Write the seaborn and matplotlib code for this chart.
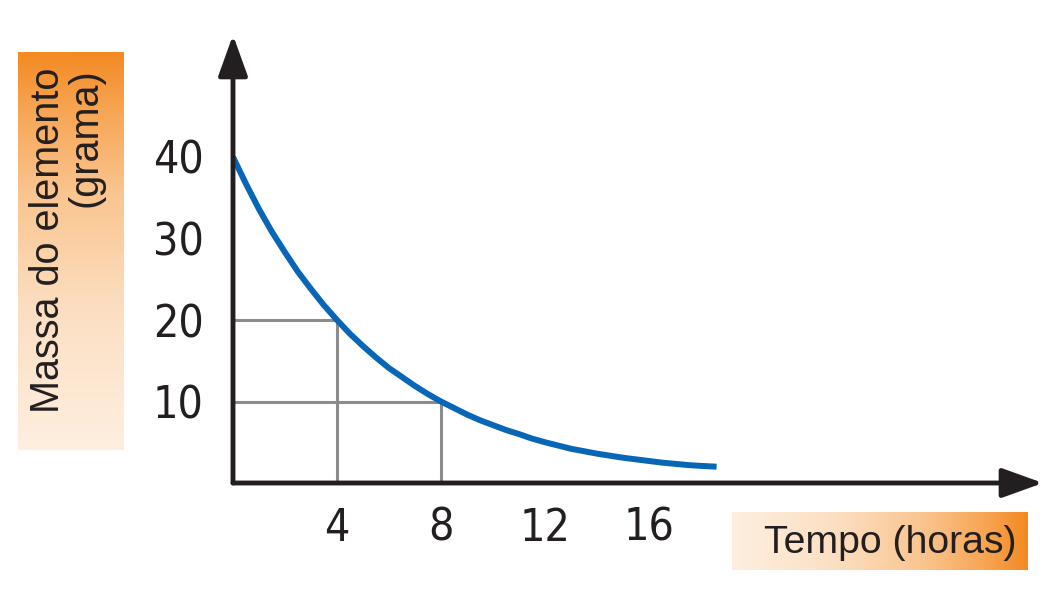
import numpy as np
import matplotlib
matplotlib.use('agg')
import matplotlib.pyplot as plt
from matplotlib import font_manager
from matplotlib.colors import LinearSegmentedColormap
import seaborn as sns

# data (every half hour)
horas = [0, 0.5, 1, 1.5, 2, 2.5, 3, 3.5, 4, 4.5, 5, 5.5, 6, 6.5, 7, 7.5, 8, 8.5, 9,
         9.5, 10, 10.5, 11, 11.5, 12, 12.5, 13, 13.5, 14, 14.5, 15, 15.5, 16, 16.5,
         17, 17.5, 18, 18.6]
massa = [40, 36.7, 33.6, 30.8, 28.3, 25.9, 23.8, 21.8, 20, 18.3, 16.8, 15.4, 14.1,
         13.0, 11.9, 10.9, 10, 9.2, 8.4, 7.7, 7.1, 6.5, 6.0, 5.45, 5.0, 4.6, 4.2,
         3.9, 3.6, 3.35, 3.1, 2.9, 2.7, 2.5, 2.35, 2.2, 2.1, 2.0]
guia_horas = [4, 8]
guia_massa = [20, 10]
x_ticks = [0, 4, 8, 12, 16]
x_labels = ['', '4', '8', '12', '16']
y_ticks = [0, 10, 20, 30, 40]
y_labels = ['', '10', '20', '30', '40']

sns.set_style('white')
plt.rcParams['font.family'] = ['Liberation Sans', 'DejaVu Sans']

# look for a condensed / narrow sans for the tick numbers
tick_prop = None
cands = []
for f in font_manager.fontManager.ttflist:
    nm = f.name.lower()
    narrow = ('narrow' in nm or 'condensed' in nm or
              f.stretch in ('condensed', 'semi-condensed', 'extra-condensed'))
    if narrow and 'mono' not in nm and 'serif' not in nm.replace('sans', ''):
        w = f.weight if isinstance(f.weight, int) else 400
        if 'italic' in f.style or 'oblique' in f.style:
            continue
        cands.append((abs(w - 350), f.fname))
if cands:
    cands.sort()
    tick_prop = font_manager.FontProperties(fname=cands[0][1])
else:
    tick_prop = font_manager.FontProperties(family='Roboto', weight='light')

INK = '#231F20'
W, H = 1052, 592
fig = plt.figure(figsize=(W / 100, H / 100), dpi=100)

# gradient label boxes (0 = orange edge, 1 = pale edge)
grad = LinearSegmentedColormap.from_list('laranja', [
    (0.0, '#F38A22'), (0.15, '#F7A655'), (0.35, '#FAC48E'),
    (0.65, '#FCDFC2'), (1.0, '#FEEFE0')])
s = np.linspace(0, 1, 256)

bx = fig.add_axes([18 / W, 1 - 450 / H, 106 / W, 398 / H])
bx.imshow(s[:, None], cmap=grad, aspect='auto', vmin=0, vmax=1)
bx.axis('off')

bx2 = fig.add_axes([732 / W, 1 - 570 / H, 296 / W, 58 / H])
bx2.imshow(s[::-1][None, :], cmap=grad, aspect='auto', vmin=0, vmax=1)
bx2.axis('off')

fig.text(67 / W, 1 - 68 / H, 'Massa do elemento\n(grama)', rotation=90,
         ha='center', va='top', multialignment='right', fontsize=28.5,
         color=INK, linespacing=0.98)
fig.text(1017 / W, 1 - 553 / H, 'Tempo (horas)', ha='right', va='baseline',
         fontsize=28.3, color=INK)

# main axes: origin at pixel (233, 483), arrow tips at x=1043 / y=35
ax = fig.add_axes([233 / W, 1 - 483 / H, (1043 - 233) / W, (483 - 35) / H])
ax.patch.set_alpha(0)
ax.set_xlim(0, 810 / 26.0)
ax.set_ylim(0, 448 / 8.15)

for t, m in zip(guia_horas, guia_massa):
    ax.plot([0, t, t], [m, m, 0], color='#8C8C8C', lw=2.2, zorder=1,
            solid_joinstyle='miter')

sns.lineplot(x=horas, y=massa, ax=ax, color='#0866B6', linewidth=4.3,
             solid_capstyle='butt', solid_joinstyle='round', zorder=2)

for sp in ax.spines.values():
    sp.set_visible(False)

arrow = dict(arrowstyle='-|>,head_length=25,head_width=9', mutation_scale=1,
             lw=3.5, color=INK, shrinkA=0, shrinkB=0)
ax.annotate('', xy=(1, 0), xytext=(0, 0), xycoords='axes fraction',
            arrowprops=arrow, annotation_clip=False, zorder=3)
ax.annotate('', xy=(0, 1), xytext=(0, 0), xycoords='axes fraction',
            arrowprops=arrow, annotation_clip=False, zorder=3)

ax.set_xticks(x_ticks, x_labels)
ax.set_yticks(y_ticks, y_labels)
ax.tick_params(axis='both', length=13, width=3, color=INK, labelcolor=INK)
ax.tick_params(axis='x', pad=4)
ax.tick_params(axis='y', pad=8)
for lab in ax.get_xticklabels() + ax.get_yticklabels():
    lab.set_fontproperties(tick_prop)
    lab.set_fontsize(32)
ax.set_xlabel('')
ax.set_ylabel('')

fig.savefig('out.png', dpi=100)
